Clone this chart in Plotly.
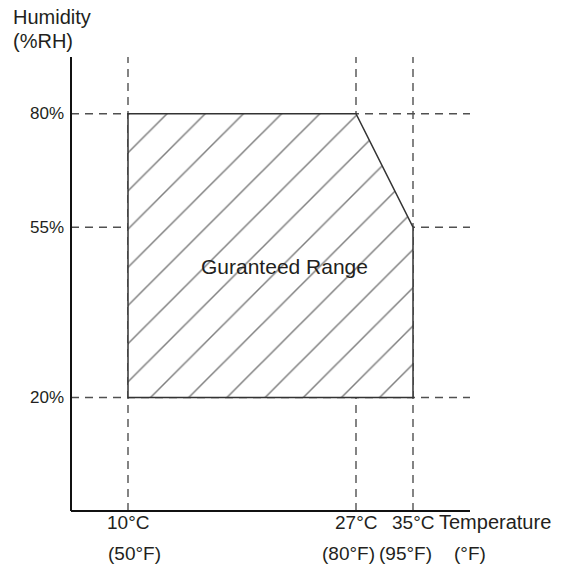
import numpy as np
import plotly.graph_objects as go

# ---- data ----
temp_c = [10, 27, 35]
temp_f = [50, 80, 95]
humidity = [20, 55, 80]
temp_c_labels = ["10°C", "27°C", "35°C"]
temp_f_labels = ["(50°F)", "(80°F)", "(95°F)"]
hum_labels = ["20%", "55%", "80%"]
range_label = "Guranteed Range"

# schematic (non-linear) scales used by the original drawing
def xs(t):
    return np.interp(t, temp_c, [0, 4, 5])

def ys(h):
    return np.interp(h, humidity, [0, 3, 5])

X_MIN, X_MAX = -1, 6
Y_MIN, Y_MAX = -2, 6

FONT = "Liberation Sans, Arial, sans-serif"
DASH = "8px,6px"
DASH_COLOR = "#505050"
TXT = "#231f20"

fig = go.Figure()

# horizontal dashed guide lines
for h in humidity:
    fig.add_trace(go.Scatter(
        x=[X_MIN, X_MAX], y=[ys(h), ys(h)], mode="lines",
        line=dict(color=DASH_COLOR, width=1.4, dash=DASH),
        hoverinfo="skip", showlegend=False,
    ))
# vertical dashed guide lines
for t in temp_c:
    fig.add_trace(go.Scatter(
        x=[xs(t), xs(t)], y=[Y_MIN, Y_MAX], mode="lines",
        line=dict(color=DASH_COLOR, width=1.4, dash=DASH),
        hoverinfo="skip", showlegend=False,
    ))

# guaranteed range polygon (hatched), drawn over the guides
poly_t = [temp_c[0], temp_c[0], temp_c[1], temp_c[2], temp_c[2], temp_c[0]]
poly_h = [humidity[0], humidity[2], humidity[2], humidity[1], humidity[0], humidity[0]]
fig.add_trace(go.Scatter(
    x=xs(poly_t), y=ys(poly_h), mode="lines", fill="toself",
    fillcolor="white",
    fillpattern=dict(shape="/", size=27, solidity=0.055, fgcolor="#000000", bgcolor="white"),
    line=dict(color="#333333", width=1.5), hoverinfo="skip", showlegend=False,
))

ann = []
# y tick labels
for h, lab in zip(humidity, hum_labels):
    ann.append(dict(x=0, xref="paper", y=ys(h), yref="y", text=lab, showarrow=False,
                    xanchor="right", yanchor="middle", xshift=-5,
                    font=dict(size=17, color=TXT, family=FONT)))
# x tick labels (two rows)
for t, lc, lf in zip(temp_c, temp_c_labels, temp_f_labels):
    ann.append(dict(x=xs(t), xref="x", y=0, yref="paper", text=lc, showarrow=False,
                    xanchor="center", yanchor="middle", yshift=-11,
                    font=dict(size=19, color=TXT, family=FONT)))
    ann.append(dict(x=xs(t), xref="x", y=0, yref="paper", text=lf, showarrow=False,
                    xanchor="center", yanchor="middle", yshift=-42,
                    xshift=-8 if t != temp_c[0] else 6,
                    font=dict(size=19, color=TXT, family=FONT)))
# axis titles
ann.append(dict(x=X_MAX, xref="x", y=0, yref="paper", text="Temperature", showarrow=False,
                xanchor="left", yanchor="middle", yshift=-11, xshift=-33,
                font=dict(size=20, color=TXT, family=FONT)))
ann.append(dict(x=X_MAX, xref="x", y=0, yref="paper", text="(°F)", showarrow=False,
                xanchor="left", yanchor="middle", yshift=-42, xshift=-18,
                font=dict(size=19, color=TXT, family=FONT)))
ann.append(dict(x=0, xref="paper", y=1, yref="paper", text="Humidity", showarrow=False,
                xanchor="left", yanchor="middle", yshift=40, xshift=-60,
                font=dict(size=20, color=TXT, family=FONT)))
ann.append(dict(x=0, xref="paper", y=1, yref="paper", text="(%RH)", showarrow=False,
                xanchor="left", yanchor="middle", yshift=16, xshift=-60,
                font=dict(size=20, color=TXT, family=FONT)))
# range label
ann.append(dict(x=float(np.mean([xs(temp_c[0]), xs(temp_c[2])])) + 0.25, xref="x",
                y=float(ys(np.mean([humidity[0], humidity[1]]))) + 0.80, yref="y",
                text=range_label, showarrow=False, xanchor="center", yanchor="middle",
                font=dict(size=21, color=TXT, family=FONT)))

fig.update_layout(
    width=567, height=568,
    margin=dict(l=71, r=97, t=57, b=57),
    paper_bgcolor="white", plot_bgcolor="white",
    xaxis=dict(range=[X_MIN, X_MAX], showgrid=False, zeroline=False, showticklabels=False,
               ticks="", showline=False, fixedrange=True),
    yaxis=dict(range=[Y_MIN, Y_MAX], showgrid=False, zeroline=False, showticklabels=False,
               ticks="", showline=False, fixedrange=True),
    annotations=ann,
    shapes=[
        dict(type="line", xref="paper", yref="paper", x0=0, x1=0, y0=0, y1=1,
             line=dict(color="#111", width=2)),
        dict(type="line", xref="paper", yref="paper", x0=0, x1=1, y0=0, y1=0,
             line=dict(color="#111", width=2)),
    ],
    showlegend=False,
)

fig.write_html("out.html", config={"displayModeBar": False},
               post_script="document.body.style.margin='0';document.body.style.overflow='hidden';")
